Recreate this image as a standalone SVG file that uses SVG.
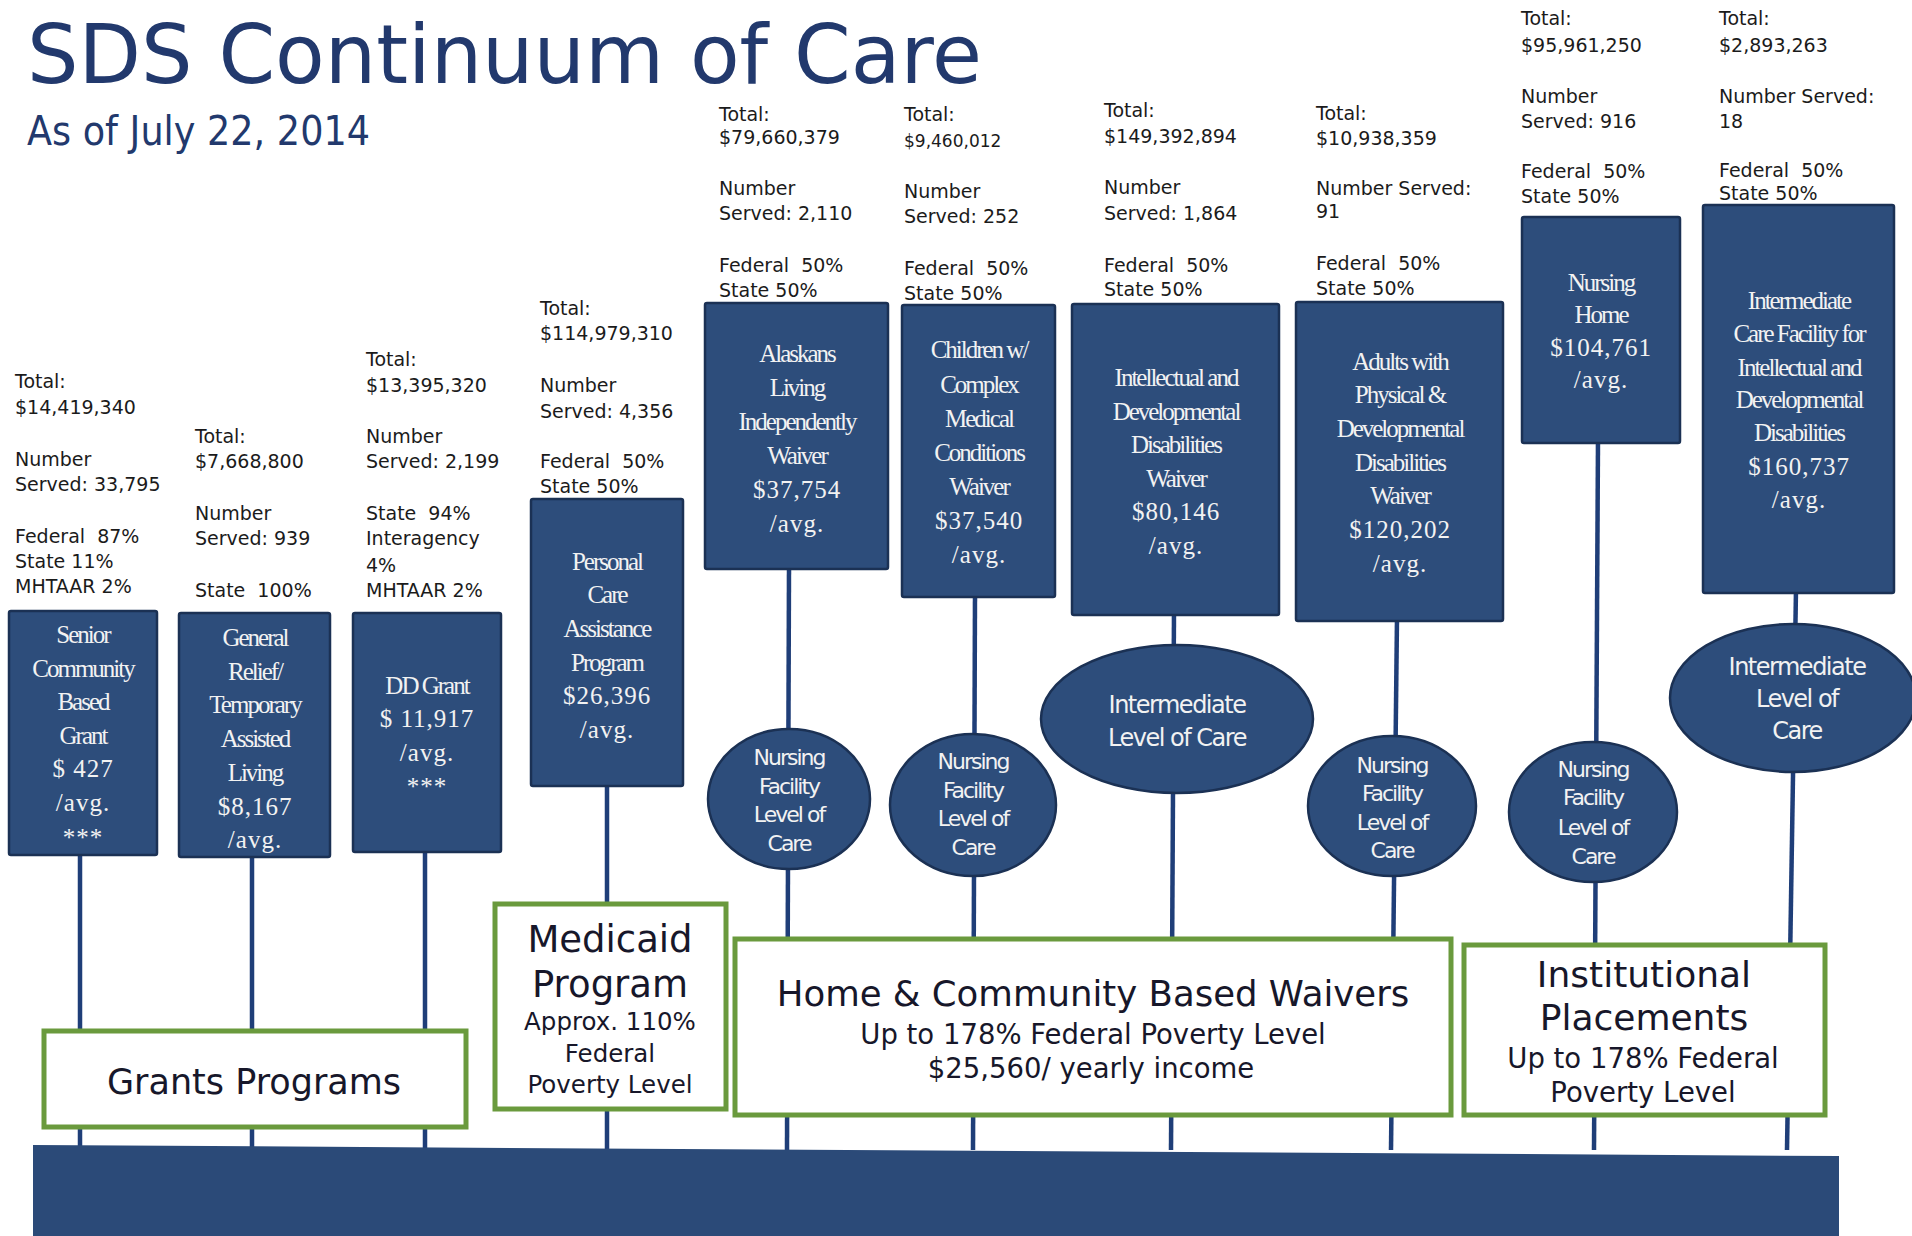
<svg xmlns="http://www.w3.org/2000/svg" width="1912" height="1236" viewBox="0 0 1912 1236">
<style>
.title{font-family:"DejaVu Sans",sans-serif;fill:#22396d}
.st{font-family:"DejaVu Sans",sans-serif;font-size:19px;fill:#1b1b1b}
.box{fill:#2d4d7b;stroke:#1b3154;stroke-width:2.5}
.ell{fill:#2d4d7b;stroke:#1b3154;stroke-width:2.5}
.bt{font-family:"Liberation Serif",serif;font-size:25px;fill:#f2f2f2;text-anchor:middle;letter-spacing:-2px}
.bn{font-family:"Liberation Serif",serif;font-size:25px;fill:#f2f2f2;text-anchor:middle;letter-spacing:1px}
.et{font-family:"DejaVu Sans",sans-serif;font-size:22px;fill:#f2f2f2;text-anchor:middle;letter-spacing:-2px}
.eb{font-family:"DejaVu Sans",sans-serif;font-size:24px;fill:#f2f2f2;text-anchor:middle;letter-spacing:-1.5px}
.gb{fill:#ffffff;stroke:#6a9a3d;stroke-width:5}
.gl{font-family:"DejaVu Sans",sans-serif;fill:#17172a;text-anchor:middle}
.stem{stroke:#1f3e78;stroke-width:4.5;fill:none}
</style>

<g id="title">
<text class="title" x="27" y="83" font-size="82" textLength="955" lengthAdjust="spacingAndGlyphs">SDS Continuum of Care</text>
<text class="title" x="27" y="145" font-size="41" textLength="343" lengthAdjust="spacingAndGlyphs">As of July 22, 2014</text>
</g>

<g id="connectors">
<line class="stem" x1="80" y1="850" x2="80" y2="1150"/>
<line class="stem" x1="252" y1="853" x2="252" y2="1150"/>
<line class="stem" x1="425" y1="848" x2="425" y2="1150"/>
<line class="stem" x1="607" y1="782" x2="607" y2="1150"/>
<line class="stem" x1="789" y1="565" x2="787" y2="1150"/>
<line class="stem" x1="975" y1="593" x2="973" y2="1150"/>
<line class="stem" x1="1174" y1="611" x2="1171" y2="1150"/>
<line class="stem" x1="1397" y1="617" x2="1391" y2="1150"/>
<line class="stem" x1="1598" y1="439" x2="1594" y2="1150"/>
<line class="stem" x1="1796" y1="589" x2="1787" y2="1150"/>
</g>

<g id="base-bar">
<polygon points="33,1145 1839,1156 1839,1236 33,1236" fill="#2b4a78"/>
</g>

<g id="senior-community-grant">
<text class="st"><tspan x="15" y="388">Total:</tspan><tspan x="15" y="414">$14,419,340</tspan><tspan x="15" y="466">Number</tspan><tspan x="15" y="491">Served: 33,795</tspan><tspan x="15" y="543">Federal&#160; 87%</tspan><tspan x="15" y="568">State 11%</tspan><tspan x="15" y="593">MHTAAR 2%</tspan></text>
<rect class="box" x="9" y="611" width="148" height="244" rx="2"/>
<text class="bt"><tspan x="83" y="643">Senior</tspan><tspan x="83" y="677">Community</tspan><tspan x="83" y="710">Based</tspan><tspan x="83" y="744">Grant</tspan></text>
<text class="bn"><tspan x="83" y="777">$ 427</tspan><tspan x="83" y="811">/avg.</tspan><tspan x="83" y="846">***</tspan></text>
</g>

<g id="general-relief">
<text class="st"><tspan x="195" y="443">Total:</tspan><tspan x="195" y="468">$7,668,800</tspan><tspan x="195" y="520">Number</tspan><tspan x="195" y="545">Served: 939</tspan><tspan x="195" y="597">State&#160; 100%</tspan></text>
<rect class="box" x="179" y="613" width="151" height="244" rx="2"/>
<text class="bt"><tspan x="255" y="646">General</tspan><tspan x="255" y="680">Relief/</tspan><tspan x="255" y="713">Temporary</tspan><tspan x="255" y="747">Assisted</tspan><tspan x="255" y="781">Living</tspan></text>
<text class="bn"><tspan x="255" y="815">$8,167</tspan><tspan x="255" y="848">/avg.</tspan></text>
</g>

<g id="dd-grant">
<text class="st"><tspan x="366" y="366">Total:</tspan><tspan x="366" y="392">$13,395,320</tspan><tspan x="366" y="443">Number</tspan><tspan x="366" y="468">Served: 2,199</tspan><tspan x="366" y="520">State&#160; 94%</tspan><tspan x="366" y="545">Interagency</tspan><tspan x="366" y="572">4%</tspan><tspan x="366" y="597">MHTAAR 2%</tspan></text>
<rect class="box" x="353" y="613" width="148" height="239" rx="2"/>
<text class="bt"><tspan x="427" y="694">DD Grant</tspan></text>
<text class="bn"><tspan x="427" y="727">$ 11,917</tspan><tspan x="427" y="761">/avg.</tspan><tspan x="427" y="795">***</tspan></text>
</g>

<g id="personal-care-assistance">
<text class="st"><tspan x="540" y="315">Total:</tspan><tspan x="540" y="340">$114,979,310</tspan><tspan x="540" y="392">Number</tspan><tspan x="540" y="418">Served: 4,356</tspan><tspan x="540" y="468">Federal&#160; 50%</tspan><tspan x="540" y="493">State 50%</tspan></text>
<rect class="box" x="531" y="499" width="152" height="287" rx="2"/>
<text class="bt"><tspan x="607" y="570">Personal</tspan><tspan x="607" y="603">Care</tspan><tspan x="607" y="637">Assistance</tspan><tspan x="607" y="671">Program</tspan></text>
<text class="bn"><tspan x="607" y="704">$26,396</tspan><tspan x="607" y="738">/avg.</tspan></text>
</g>

<g id="alaskans-living-independently">
<text class="st"><tspan x="719" y="121">Total:</tspan><tspan x="719" y="144">$79,660,379</tspan><tspan x="719" y="195">Number</tspan><tspan x="719" y="220">Served: 2,110</tspan><tspan x="719" y="272">Federal&#160; 50%</tspan><tspan x="719" y="297">State 50%</tspan></text>
<rect class="box" x="705" y="303" width="183" height="266" rx="2"/>
<text class="bt"><tspan x="797" y="362">Alaskans</tspan><tspan x="797" y="396">Living</tspan><tspan x="797" y="430">Independently</tspan><tspan x="797" y="464">Waiver</tspan></text>
<text class="bn"><tspan x="797" y="498">$37,754</tspan><tspan x="797" y="532">/avg.</tspan></text>
<ellipse class="ell" cx="789" cy="799" rx="81" ry="70"/>
<text class="et"><tspan x="789" y="765">Nursing</tspan><tspan x="789" y="794">Facility</tspan><tspan x="789" y="822">Level of</tspan><tspan x="789" y="851">Care</tspan></text>
</g>

<g id="children-complex-medical">
<text class="st"><tspan x="904" y="121">Total:</tspan><tspan x="904" y="147" font-size="17">$9,460,012</tspan><tspan x="904" y="198">Number</tspan><tspan x="904" y="223">Served: 252</tspan><tspan x="904" y="275">Federal&#160; 50%</tspan><tspan x="904" y="300">State 50%</tspan></text>
<rect class="box" x="902" y="305" width="153" height="292" rx="2"/>
<text class="bt"><tspan x="979" y="358">Children w/</tspan><tspan x="979" y="393">Complex</tspan><tspan x="979" y="427">Medical</tspan><tspan x="979" y="461">Conditions</tspan><tspan x="979" y="495">Waiver</tspan></text>
<text class="bn"><tspan x="979" y="529">$37,540</tspan><tspan x="979" y="563">/avg.</tspan></text>
<ellipse class="ell" cx="973" cy="805" rx="83" ry="71"/>
<text class="et"><tspan x="973" y="769">Nursing</tspan><tspan x="973" y="798">Facility</tspan><tspan x="973" y="826">Level of</tspan><tspan x="973" y="855">Care</tspan></text>
</g>

<g id="intellectual-developmental-waiver">
<text class="st"><tspan x="1104" y="117">Total:</tspan><tspan x="1104" y="143">$149,392,894</tspan><tspan x="1104" y="194">Number</tspan><tspan x="1104" y="220">Served: 1,864</tspan><tspan x="1104" y="272">Federal&#160; 50%</tspan><tspan x="1104" y="296">State 50%</tspan></text>
<rect class="box" x="1072" y="304" width="207" height="311" rx="2"/>
<text class="bt"><tspan x="1176" y="386">Intellectual and</tspan><tspan x="1176" y="420">Developmental</tspan><tspan x="1176" y="453">Disabilities</tspan><tspan x="1176" y="487">Waiver</tspan></text>
<text class="bn"><tspan x="1176" y="520">$80,146</tspan><tspan x="1176" y="554">/avg.</tspan></text>
<ellipse class="ell" cx="1177" cy="719" rx="136" ry="74"/>
<text class="eb"><tspan x="1177" y="713">Intermediate</tspan><tspan x="1177" y="746">Level of Care</tspan></text>
</g>

<g id="adults-physical-developmental">
<text class="st"><tspan x="1316" y="120">Total:</tspan><tspan x="1316" y="145">$10,938,359</tspan><tspan x="1316" y="195">Number Served:</tspan><tspan x="1316" y="218">91</tspan><tspan x="1316" y="270">Federal&#160; 50%</tspan><tspan x="1316" y="295">State 50%</tspan></text>
<rect class="box" x="1296" y="302" width="207" height="319" rx="2"/>
<text class="bt"><tspan x="1400" y="370">Adults with</tspan><tspan x="1400" y="403">Physical &amp;</tspan><tspan x="1400" y="437">Developmental</tspan><tspan x="1400" y="471">Disabilities</tspan><tspan x="1400" y="504">Waiver</tspan></text>
<text class="bn"><tspan x="1400" y="538">$120,202</tspan><tspan x="1400" y="572">/avg.</tspan></text>
<ellipse class="ell" cx="1392" cy="806" rx="84" ry="70"/>
<text class="et"><tspan x="1392" y="773">Nursing</tspan><tspan x="1392" y="801">Facility</tspan><tspan x="1392" y="830">Level of</tspan><tspan x="1392" y="858">Care</tspan></text>
</g>

<g id="nursing-home">
<text class="st"><tspan x="1521" y="25">Total:</tspan><tspan x="1521" y="52">$95,961,250</tspan><tspan x="1521" y="103">Number</tspan><tspan x="1521" y="128">Served: 916</tspan><tspan x="1521" y="178">Federal&#160; 50%</tspan><tspan x="1521" y="203">State 50%</tspan></text>
<rect class="box" x="1522" y="217" width="158" height="226" rx="2"/>
<text class="bt"><tspan x="1601" y="291">Nursing</tspan><tspan x="1601" y="323">Home</tspan></text>
<text class="bn"><tspan x="1601" y="356">$104,761</tspan><tspan x="1601" y="388">/avg.</tspan></text>
<ellipse class="ell" cx="1593" cy="812" rx="84" ry="70"/>
<text class="et"><tspan x="1593" y="777">Nursing</tspan><tspan x="1593" y="805">Facility</tspan><tspan x="1593" y="835">Level of</tspan><tspan x="1593" y="864">Care</tspan></text>
</g>

<g id="intermediate-care-facility">
<text class="st"><tspan x="1719" y="25">Total:</tspan><tspan x="1719" y="52">$2,893,263</tspan><tspan x="1719" y="103">Number Served:</tspan><tspan x="1719" y="128">18</tspan><tspan x="1719" y="177">Federal&#160; 50%</tspan><tspan x="1719" y="200">State 50%</tspan></text>
<rect class="box" x="1703" y="205" width="191" height="388" rx="2"/>
<text class="bt"><tspan x="1799" y="309">Intermediate</tspan><tspan x="1799" y="342">Care Facility for</tspan><tspan x="1799" y="376">Intellectual and</tspan><tspan x="1799" y="408">Developmental</tspan><tspan x="1799" y="441">Disabilities</tspan></text>
<text class="bn"><tspan x="1799" y="475">$160,737</tspan><tspan x="1799" y="508">/avg.</tspan></text>
<ellipse class="ell" cx="1793" cy="698" rx="123" ry="74"/>
<text class="eb"><tspan x="1797" y="675">Intermediate</tspan><tspan x="1797" y="707">Level of</tspan><tspan x="1797" y="739">Care</tspan></text>
</g>

<g id="grants-programs">
<rect class="gb" x="44" y="1031" width="422" height="96"/>
<text class="gl" x="254" y="1094" font-size="35">Grants Programs</text>
</g>

<g id="medicaid-program">
<rect class="gb" x="495" y="904" width="231" height="205"/>
<text class="gl" font-size="37"><tspan x="610" y="952">Medicaid</tspan><tspan x="610" y="997">Program</tspan></text>
<text class="gl" font-size="24.5"><tspan x="610" y="1030">Approx. 110%</tspan><tspan x="610" y="1062">Federal</tspan><tspan x="610" y="1093">Poverty Level</tspan></text>
</g>

<g id="home-community-waivers">
<rect class="gb" x="735" y="939" width="716" height="176"/>
<text class="gl" x="1093" y="1006" font-size="35.5">Home &amp; Community Based Waivers</text>
<text class="gl" font-size="27.5"><tspan x="1093" y="1044">Up to 178% Federal Poverty Level</tspan><tspan x="1091" y="1078">$25,560/ yearly income</tspan></text>
</g>

<g id="institutional-placements">
<rect class="gb" x="1464" y="945" width="361" height="170"/>
<text class="gl" font-size="36"><tspan x="1644" y="987">Institutional</tspan><tspan x="1644" y="1030">Placements</tspan></text>
<text class="gl" font-size="27.5"><tspan x="1643" y="1068">Up to 178% Federal</tspan><tspan x="1643" y="1102">Poverty Level</tspan></text>
</g>
</svg>
